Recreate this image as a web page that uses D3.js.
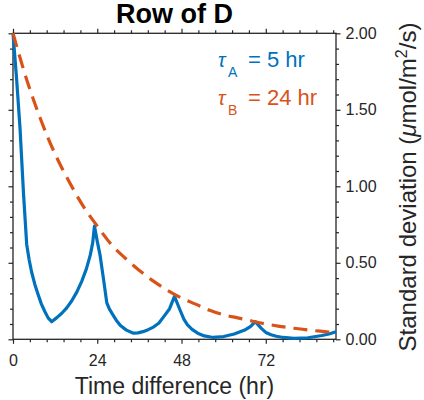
<!DOCTYPE html>
<html>
<head>
<meta charset="utf-8">
<script src="https://cdn.jsdelivr.net/npm/d3@7"></script>
<style>
  html, body { margin: 0; padding: 0; background: #fff; }
  svg text { font-family: "Liberation Sans", Arial, Helvetica, sans-serif; fill: #262626; }
</style>
</head>
<body>
<svg id="chart" width="424" height="400"></svg>
<script>
// Standard deviation vs. time difference for two time constants
const titleText = "Row of D";
const xLabelText = "Time difference (hr)";

// tau_A = 5 hr (solid blue)
const blueTimes = [0, 1, 2, 3, 3.9, 4.6, 5.3, 6.2, 7.2, 8.1, 9.1, 10, 11, 12.4, 13.9, 15.3, 16.7, 18.2, 19.6, 20.9, 22, 22.7, 23.2, 24, 24.8, 25.8, 26.7, 27.4, 28.2, 29.4, 30.6, 32.3, 34.3, 35.6, 37, 38.5, 40, 41.5, 43, 44.6, 46, 47.6, 48.7, 49.7, 51, 52.6, 54.5, 57, 60, 63, 66, 67.7, 69, 70.8, 72, 73.5, 75, 77, 80, 84, 88, 90, 92];
const blueValues = [2.0, 1.71, 1.38, 0.95, 0.62, 0.52, 0.44, 0.36, 0.29, 0.23, 0.18, 0.14, 0.115, 0.14, 0.17, 0.205, 0.25, 0.31, 0.38, 0.46, 0.55, 0.63, 0.74, 0.64, 0.55, 0.39, 0.24, 0.2, 0.17, 0.125, 0.09, 0.06, 0.04, 0.042, 0.05, 0.063, 0.08, 0.105, 0.15, 0.2, 0.28, 0.19, 0.13, 0.095, 0.065, 0.04, 0.022, 0.012, 0.018, 0.035, 0.06, 0.085, 0.115, 0.07, 0.045, 0.03, 0.02, 0.012, 0.006, 0.01, 0.025, 0.035, 0.05];

// tau_B = 24 hr (dashed orange)
const orangeTimes = [0, 4, 8, 12, 16, 20, 24, 28, 32, 36, 40, 44, 48, 52, 56, 60, 64, 68, 72, 76, 80, 84, 88, 92];
const orangeValues = [2.0, 1.69, 1.43, 1.21, 1.03, 0.87, 0.74, 0.62, 0.53, 0.45, 0.38, 0.32, 0.27, 0.23, 0.19, 0.16, 0.14, 0.12, 0.10, 0.085, 0.072, 0.061, 0.052, 0.044];

// Axis ticks
const xTicks = [0, 24, 48, 72];
const xMinorTicks = [4.8, 9.6, 14.4, 19.2, 28.8, 33.6, 38.4, 43.2, 52.8, 57.6, 62.4, 67.2, 76.8, 81.6, 86.4, 91.2];
const yTicks = [0, 0.5, 1.0, 1.5, 2.0];
const yMinorTicks = [0.1, 0.2, 0.3, 0.4, 0.6, 0.7, 0.8, 0.9, 1.1, 1.2, 1.3, 1.4, 1.6, 1.7, 1.8, 1.9];

const BLUE = "#0072BD", ORANGE = "#D95319", INK = "#262626";

const svg = d3.select("#chart");
const plot = { left: 13, right: 336, top: 33.3, bottom: 339.3 };

const x = d3.scaleLinear().domain([0, 92]).range([plot.left, plot.right]);
const y = d3.scaleLinear().domain([0, 2]).range([plot.bottom, plot.top]);

function styleAxis(g) {
  g.select(".domain").remove();
  g.selectAll(".tick line").attr("stroke", INK).attr("stroke-width", 1.2);
}

// minor ticks (outward, short)
svg.append("g").attr("transform", `translate(0,${plot.bottom})`)
  .call(d3.axisBottom(x).tickValues(xMinorTicks).tickSize(3).tickFormat(""))
  .call(styleAxis);
svg.append("g").attr("transform", `translate(0,${plot.top})`)
  .call(d3.axisTop(x).tickValues(xMinorTicks).tickSize(3).tickFormat(""))
  .call(styleAxis);
svg.append("g").attr("transform", `translate(${plot.left},0)`)
  .call(d3.axisLeft(y).tickValues(yMinorTicks).tickSize(3).tickFormat(""))
  .call(styleAxis);
svg.append("g").attr("transform", `translate(${plot.right},0)`)
  .call(d3.axisRight(y).tickValues(yMinorTicks).tickSize(3).tickFormat(""))
  .call(styleAxis);

// major ticks
const xAxis = svg.append("g").attr("transform", `translate(0,${plot.bottom})`)
  .call(d3.axisBottom(x).tickValues(xTicks).tickSize(4.5).tickPadding(11).tickFormat(d3.format("d")))
  .call(styleAxis);
xAxis.selectAll(".tick text").attr("font-size", 16).attr("fill", INK)
  .attr("font-family", "'Liberation Sans', Arial, sans-serif");

svg.append("g").attr("transform", `translate(0,${plot.top})`)
  .call(d3.axisTop(x).tickValues(xTicks).tickSize(4.5).tickFormat(""))
  .call(styleAxis);
svg.append("g").attr("transform", `translate(${plot.left},0)`)
  .call(d3.axisLeft(y).tickValues(yTicks).tickSize(4.5).tickFormat(""))
  .call(styleAxis);
const yAxis = svg.append("g").attr("transform", `translate(${plot.right},0)`)
  .call(d3.axisRight(y).tickValues(yTicks).tickSize(4.5).tickPadding(5).tickFormat(d3.format(".2f")))
  .call(styleAxis);
yAxis.selectAll(".tick text").attr("font-size", 16).attr("fill", INK)
  .attr("font-family", "'Liberation Sans', Arial, sans-serif");

// axes box
svg.append("rect")
  .attr("x", plot.left).attr("y", plot.top)
  .attr("width", plot.right - plot.left).attr("height", plot.bottom - plot.top)
  .attr("fill", "none").attr("stroke", INK).attr("stroke-width", 1.3);

// series
const blue = blueTimes.map((t, i) => [t, blueValues[i]]);
const orange = orangeTimes.map((t, i) => [t, orangeValues[i]]);

const lineLin = d3.line().x(d => x(d[0])).y(d => y(d[1]));
const lineSmooth = d3.line().x(d => x(d[0])).y(d => y(d[1])).curve(d3.curveMonotoneX);

svg.append("path").datum(blue)
  .attr("d", lineLin).attr("fill", "none")
  .attr("stroke", BLUE).attr("stroke-width", 3.2)
  .attr("stroke-linejoin", "round").attr("stroke-linecap", "butt");

svg.append("path").datum(orange)
  .attr("d", lineSmooth).attr("fill", "none")
  .attr("stroke", ORANGE).attr("stroke-width", 3.2)
  .attr("stroke-dasharray", "14,8");

// title
svg.append("text").attr("x", (plot.left + plot.right) / 2).attr("y", 23)
  .attr("text-anchor", "middle").attr("font-size", 27).attr("font-weight", "bold")
  .style("fill", "#000").text(titleText);

// x label
svg.append("text").attr("x", (plot.left + plot.right) / 2).attr("y", 394)
  .attr("text-anchor", "middle").attr("font-size", 23).text(xLabelText);

// y label (right side, rotated)
const yl = svg.append("text")
  .attr("transform", `translate(416,187) rotate(-90)`)
  .attr("text-anchor", "middle").attr("font-size", 24);
yl.append("tspan").text("Standard deviation (");
yl.append("tspan").attr("font-style", "italic").text("\u03BC");
yl.append("tspan").text("mol/m");
yl.append("tspan").attr("dy", -9).attr("font-size", 16).text("2");
yl.append("tspan").attr("dy", 9).text("/s)");

// legend annotations
function tauLabel(yBase, sub, rest, color) {
  const g = svg.append("g").style("fill", color);
  g.append("text").attr("x", 218).attr("y", yBase).attr("font-size", 20)
    .attr("font-style", "italic").style("fill", color).text("\u03C4");
  g.append("text").attr("x", 228).attr("y", yBase + 10).attr("font-size", 14)
    .style("fill", color).text(sub);
  g.append("text").attr("x", 248).attr("y", yBase).attr("font-size", 22)
    .style("fill", color).text(rest);
}
tauLabel(66.5, "A", "= 5 hr", BLUE);
tauLabel(105, "B", "= 24 hr", ORANGE);
</script>
</body>
</html>
